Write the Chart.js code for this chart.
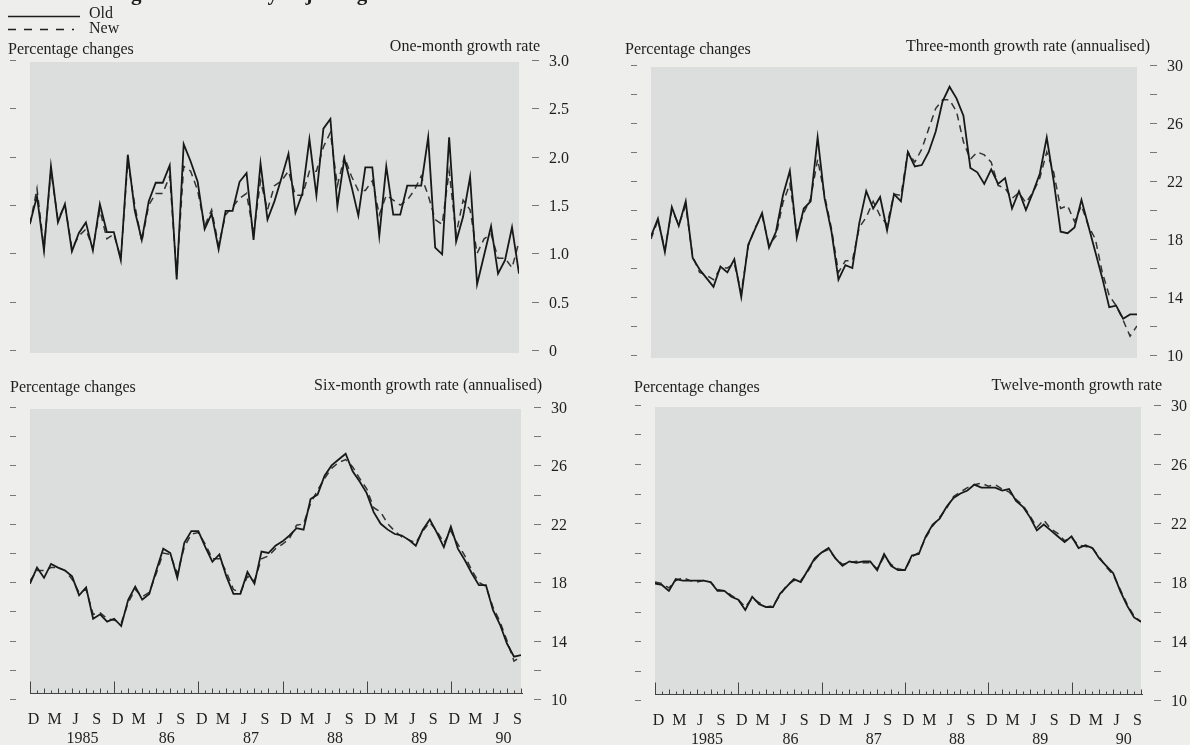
<!DOCTYPE html>
<html>
<head>
    <title>Growth rates: old and new seasonal adjustment</title>
    <script src="https://cdn.jsdelivr.net/npm/chart.js"></script>
    <style>
        body {
            margin: 0;
            width: 1190px;
            height: 745px;
            overflow: hidden;
            position: relative;
            background: #eeeeec;
        }
        canvas {
            position: absolute;
        }
    </style>
</head>
<body>
    <canvas id="oneMonth" width="595" height="372" style="left:0;top:0"></canvas>
    <canvas id="threeMonth" width="595" height="372" style="left:595px;top:0"></canvas>
    <canvas id="sixMonth" width="595" height="373" style="left:0;top:372px"></canvas>
    <canvas id="twelveMonth" width="595" height="373" style="left:595px;top:372px"></canvas>

    <script>
        // end-of-month observations, Nov 1984 .. Sep 1990
        const monthLetters = ['D', 'M', 'J', 'S'];
        const yearLabels = ['1985', '86', '87', '88', '89', '90'];

        const oneMonthTickValues = [0, 0.5, 1, 1.5, 2, 2.5, 3];
        const oneMonthTickLabels = ['0', '0.5', '1.0', '1.5', '2.0', '2.5', '3.0'];
        const rateTickValues = [10, 12, 14, 16, 18, 20, 22, 24, 26, 28, 30];
        const rateTickLabels = ['10', '', '14', '', '18', '', '22', '', '26', '', '30'];

        const oneMonthOld = [1.31, 1.59, 1.03, 1.90, 1.32, 1.51, 1.02, 1.21, 1.32, 1.03,
            1.51, 1.22, 1.22, 0.93, 2.02, 1.44, 1.14, 1.54, 1.73, 1.73,
            1.91, 0.73, 2.13, 1.95, 1.74, 1.25, 1.41, 1.04, 1.44, 1.44,
            1.74, 1.83, 1.14, 1.93, 1.35, 1.54, 1.78, 2.03, 1.42, 1.62,
            2.18, 1.60, 2.29, 2.39, 1.49, 1.98, 1.70, 1.39, 1.89, 1.89,
            1.18, 1.90, 1.40, 1.40, 1.70, 1.70, 1.70, 2.20, 1.06, 0.99,
            2.20, 1.12, 1.38, 1.79, 0.68, 0.98, 1.28, 0.79, 0.93, 1.27, 0.79];
        const oneMonthNew = [1.30, 1.67, 1.05, 1.85, 1.35, 1.50, 1.05, 1.18, 1.25, 1.05,
            1.45, 1.15, 1.20, 0.95, 1.95, 1.50, 1.12, 1.50, 1.62, 1.62,
            1.80, 0.78, 1.90, 1.85, 1.65, 1.28, 1.45, 1.08, 1.40, 1.48,
            1.57, 1.62, 1.20, 1.75, 1.45, 1.70, 1.75, 1.85, 1.60, 1.60,
            1.85, 1.85, 2.10, 2.25, 1.70, 2.00, 1.80, 1.65, 1.65, 1.75,
            1.40, 1.60, 1.55, 1.50, 1.55, 1.65, 1.80, 1.60, 1.35, 1.30,
            1.85, 1.20, 1.55, 1.45, 1.00, 1.15, 1.20, 0.95, 0.95, 0.85, 1.12];

        const threeMonthOld = [18.2, 19.4, 17.1, 20.2, 18.9, 20.6, 16.7, 15.9, 15.3, 14.7,
            16.1, 15.7, 16.6, 14.0, 17.6, 18.7, 19.8, 17.4, 18.5, 21.0,
            22.7, 18.1, 20.1, 20.6, 25.0, 20.8, 18.5, 15.2, 16.2, 16.0,
            19.1, 21.3, 20.1, 20.9, 18.6, 21.1, 20.6, 24.0, 23.0, 23.1,
            24.0, 25.4, 27.5, 28.5, 27.7, 26.5, 22.9, 22.6, 21.8, 22.8,
            21.8, 22.2, 20.1, 21.3, 20.0, 21.2, 22.5, 25.0, 22.0, 18.5,
            18.4, 18.8, 20.7, 18.9, 17.1, 15.3, 13.3, 13.4, 12.5, 12.8, 12.8];
        const threeMonthNew = [18.0, 19.3, 17.3, 20.0, 19.0, 20.3, 16.8, 15.7, 15.5, 15.2,
            16.0, 16.0, 16.3, 14.3, 17.5, 18.8, 19.6, 17.6, 18.2, 20.5,
            21.8, 18.4, 19.8, 20.8, 23.5, 21.0, 18.7, 15.7, 16.5, 16.5,
            18.8, 19.5, 20.6, 19.6, 19.0, 21.1, 21.0, 24.0, 23.3, 24.2,
            25.6, 27.0, 27.6, 27.6, 26.8, 24.7, 23.5, 24.0, 23.8, 23.3,
            21.7, 21.5, 20.8, 21.2, 20.5, 21.2, 22.2, 24.0, 22.6, 20.1,
            20.3, 19.2, 20.3, 18.9, 18.0, 15.7, 14.1, 13.4, 12.4, 11.3, 12.0];

        const sixMonthOld = [17.9, 19.0, 18.3, 19.25, 19.0, 18.8, 18.4, 17.1, 17.65, 15.5,
            15.8, 15.3, 15.5, 15.0, 16.8, 17.7, 16.8, 17.2, 18.8, 20.3,
            20.0, 18.3, 20.7, 21.5, 21.5, 20.4, 19.4, 19.9, 18.4, 17.2,
            17.2, 18.7, 17.9, 20.1, 20.0, 20.5, 20.8, 21.2, 21.7, 21.6,
            23.7, 24.0, 25.3, 26.0, 26.4, 26.8, 25.6, 24.9, 24.1, 22.8,
            22.0, 21.6, 21.3, 21.2, 20.9, 20.5, 21.6, 22.3, 21.4, 20.4,
            21.8, 20.3, 19.5, 18.6, 17.8, 17.8, 16.1, 15.1, 13.8, 12.9, 13.0];
        const sixMonthNew = [18.1, 18.8, 18.8, 19.0, 19.0, 18.8, 18.2, 17.3, 17.5, 15.8,
            15.9, 15.5, 15.4, 15.2, 16.6, 17.5, 17.0, 17.3, 18.6, 20.0,
            19.9, 18.6, 20.4, 21.3, 21.4, 20.6, 19.6, 19.6, 18.7, 17.5,
            17.3, 18.4, 18.1, 19.6, 19.8, 20.3, 20.6, 21.0, 21.9, 22.0,
            23.4, 24.3, 25.1, 25.8, 26.2, 26.4, 25.9, 25.1, 24.4, 23.1,
            22.8, 22.0, 21.5, 21.1, 20.9, 20.7, 21.5, 22.1, 21.5, 20.7,
            21.5, 20.6, 19.8, 18.8, 18.0, 17.7, 16.3, 15.3, 14.0, 12.6, 12.9];

        const twelveMonthOld = [17.9, 17.8, 17.4, 18.2, 18.1, 18.1, 18.1, 18.1, 18.0, 17.4,
            17.4, 17.0, 16.8, 16.1, 17.0, 16.5, 16.3, 16.3, 17.2, 17.7,
            18.2, 18.0, 18.8, 19.6, 20.0, 20.3, 19.6, 19.1, 19.4, 19.3,
            19.4, 19.4, 18.8, 19.9, 19.1, 18.8, 18.8, 19.8, 19.9, 21.1,
            21.9, 22.3, 23.1, 23.7, 24.0, 24.2, 24.6, 24.4, 24.4, 24.4,
            24.2, 24.3, 23.5, 23.1, 22.4, 21.5, 21.9, 21.5, 21.1, 20.7,
            21.1, 20.3, 20.5, 20.3, 19.6, 19.1, 18.6, 17.4, 16.4, 15.6, 15.3];
        const twelveMonthNew = [18.0, 17.9, 17.6, 18.1, 18.3, 18.1, 18.0, 18.1, 18.0, 17.5,
            17.4, 17.1, 16.8, 16.3, 16.9, 16.6, 16.3, 16.4, 17.1, 17.8,
            18.1, 18.1, 18.7, 19.5, 20.0, 20.2, 19.6, 19.2, 19.3, 19.4,
            19.3, 19.3, 18.9, 19.7, 19.2, 18.9, 18.8, 19.7, 20.0, 21.0,
            21.8, 22.4, 23.0, 23.8, 24.1, 24.4, 24.6, 24.7, 24.5, 24.6,
            24.3, 24.1, 23.6, 23.2, 22.5, 21.7, 22.2, 21.6, 21.3, 20.8,
            21.0, 20.5, 20.4, 20.3, 19.7, 19.0, 18.5, 17.5, 16.5, 15.7, 15.3];

        const FONT = '16px "Liberation Serif", "Times New Roman", serif';
        const INK = '#1e1e1e';

        // gray plot box, tick dashes, labels, headings, bottom date axis
        const panelPlugin = {
            id: 'panel',
            beforeDatasetsDraw(chart, args, o) {
                const ctx = chart.ctx, a = chart.chartArea;
                const bottom = o.dateAxis ? a.bottom - 6 : a.bottom + 3;
                ctx.save();
                ctx.fillStyle = '#dcdddd';
                ctx.fillRect(a.left, a.top + 2, a.right - a.left, bottom - a.top - 2);
                ctx.restore();
            },
            afterDraw(chart, args, o) {
                const ctx = chart.ctx, a = chart.chartArea;
                const xs = chart.scales.x, ys = chart.scales.y;
                ctx.save();
                ctx.font = FONT;
                ctx.fillStyle = INK;
                ctx.textBaseline = 'alphabetic';

                // headings
                ctx.textAlign = 'left';
                ctx.fillText('Percentage changes', o.headX, o.headY);
                ctx.textAlign = 'right';
                ctx.fillText(o.title, o.titleX, o.titleY);

                // y tick dashes both sides, labels on right
                ctx.strokeStyle = '#777';
                ctx.lineWidth = 1;
                o.tickValues.forEach((v, i) => {
                    const y = Math.round(ys.getPixelForValue(v)) + 0.5;
                    ctx.beginPath();
                    ctx.moveTo(a.left - 20, y); ctx.lineTo(a.left - 14, y);
                    ctx.moveTo(a.right + 13, y); ctx.lineTo(a.right + 20, y);
                    ctx.stroke();
                    if (o.tickLabels[i]) {
                        ctx.textAlign = 'left';
                        ctx.textBaseline = 'middle';
                        ctx.fillText(o.tickLabels[i], a.right + 30, y + 1);
                    }
                });

                if (o.dateAxis) {
                    const base = Math.round(a.bottom - 6) + 0.5;
                    ctx.strokeStyle = '#444';
                    ctx.beginPath();
                    ctx.moveTo(a.left, base); ctx.lineTo(a.right + 2, base);
                    for (let m = 0; m <= 70; m++) {
                        const x = Math.round(xs.getPixelForValue(m)) + 0.5;
                        const len = m % 12 === 0 ? 12 : (m % 2 === 0 ? 5 : 3);
                        ctx.moveTo(x, base); ctx.lineTo(x, base - len);
                    }
                    ctx.stroke();
                    ctx.textAlign = 'center';
                    ctx.textBaseline = 'alphabetic';
                    for (let k = 0; k < 24; k++) {
                        ctx.fillText(monthLetters[k % 4], xs.getPixelForValue(0.5 + 3 * k), base + 30);
                    }
                    yearLabels.forEach((yr, k) => {
                        ctx.fillText(yr, xs.getPixelForValue(7.5 + 12 * k), base + 49);
                    });
                }

                if (o.legend) {
                    ctx.strokeStyle = INK;
                    ctx.lineWidth = 1.3;
                    ctx.beginPath();
                    ctx.moveTo(8, 16.5); ctx.lineTo(80, 16.5);
                    ctx.stroke();
                    ctx.setLineDash([8, 8]);
                    ctx.beginPath();
                    ctx.moveTo(8, 29.5); ctx.lineTo(74, 29.5);
                    ctx.stroke();
                    ctx.setLineDash([]);
                    ctx.textAlign = 'left';
                    ctx.textBaseline = 'alphabetic';
                    ctx.fillText('Old', 89, 18);
                    ctx.fillText('New', 89, 33);
                    // running head, cut off by the top of the page
                    ctx.font = 'bold 21px "Liberation Serif", serif';
                    ctx.fillText('Chart 3  Changes in seasonally adjusting M4 totals', 2, 0);
                }
                ctx.restore();
            }
        };

        function makePanel(id, oldVals, newVals, o) {
            const pts = vals => vals.map((v, i) => ({ x: i, y: v }));
            new Chart(document.getElementById(id), {
                type: 'line',
                data: {
                    datasets: [
                        { label: 'Old', data: pts(oldVals), borderColor: '#181818', borderWidth: 1.8, pointRadius: 0, tension: 0 },
                        { label: 'New', data: pts(newVals), borderColor: '#333333', borderWidth: 1.5, borderDash: [7, 5], pointRadius: 0, tension: 0 }
                    ]
                },
                options: {
                    responsive: false,
                    animation: false,
                    devicePixelRatio: 1,
                    layout: { padding: o.pad },
                    scales: {
                        x: { type: 'linear', min: 0, max: 70, display: false },
                        y: { type: 'linear', min: o.min, max: o.max, display: false }
                    },
                    plugins: {
                        legend: { display: false },
                        tooltip: { enabled: false },
                        panel: o
                    }
                },
                plugins: [panelPlugin]
            });
        }

        makePanel('oneMonth', oneMonthOld, oneMonthNew, {
            pad: { left: 30, right: 76, top: 60, bottom: 22 }, min: 0, max: 3,
            tickValues: oneMonthTickValues, tickLabels: oneMonthTickLabels,
            title: 'One-month growth rate', titleX: 540, titleY: 51, headX: 8, headY: 54,
            legend: true, dateAxis: false
        });
        makePanel('threeMonth', threeMonthOld, threeMonthNew, {
            pad: { left: 56, right: 53, top: 65, bottom: 17 }, min: 10, max: 30,
            tickValues: rateTickValues, tickLabels: rateTickLabels,
            title: 'Three-month growth rate (annualised)', titleX: 555, titleY: 51, headX: 30, headY: 54,
            legend: false, dateAxis: false
        });
        makePanel('sixMonth', sixMonthOld, sixMonthNew, {
            pad: { left: 30, right: 74, top: 35, bottom: 46 }, min: 10, max: 30,
            tickValues: rateTickValues, tickLabels: rateTickLabels,
            title: 'Six-month growth rate (annualised)', titleX: 542, titleY: 18, headX: 10, headY: 20,
            legend: false, dateAxis: true
        });
        makePanel('twelveMonth', twelveMonthOld, twelveMonthNew, {
            pad: { left: 60, right: 49, top: 33, bottom: 45 }, min: 10, max: 30,
            tickValues: rateTickValues, tickLabels: rateTickLabels,
            title: 'Twelve-month growth rate', titleX: 567, titleY: 18, headX: 39, headY: 20,
            legend: false, dateAxis: true
        });
    </script>
</body>
</html>
